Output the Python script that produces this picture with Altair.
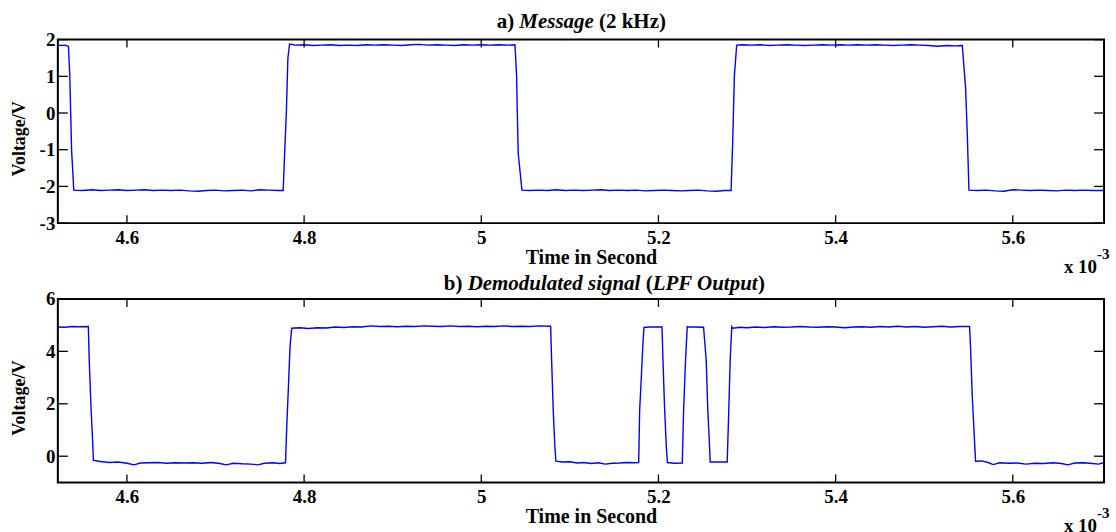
import altair as alt
import pandas as pd

# ---------------- data (time in units of 1e-3 s, voltage in V) ----------------
MSG_T = [4.522, 4.526, 4.530, 4.534, 4.5355, 4.5365, 4.5375, 4.5400,
         4.550, 4.560, 4.570, 4.580, 4.590, 4.600, 4.610, 4.620, 4.630, 4.640,
         4.650, 4.660, 4.670, 4.680, 4.690, 4.700, 4.710, 4.720, 4.730, 4.740,
         4.750, 4.760, 4.770, 4.7764,
         4.7780, 4.7800, 4.7817, 4.7836,
         4.790, 4.800, 4.810, 4.820, 4.830, 4.840, 4.850, 4.860, 4.870, 4.880,
         4.890, 4.900, 4.910, 4.920, 4.930, 4.940, 4.950, 4.960, 4.970, 4.980,
         4.990, 5.000, 5.010, 5.020, 5.030, 5.038,
         5.0399, 5.0407, 5.0417, 5.0459,
         5.055, 5.065, 5.075, 5.085, 5.095, 5.105, 5.115, 5.125, 5.135, 5.145,
         5.155, 5.165, 5.175, 5.185, 5.195, 5.205, 5.215, 5.225, 5.235, 5.245,
         5.255, 5.265, 5.275, 5.282,
         5.2838, 5.2857, 5.2883,
         5.295, 5.305, 5.315, 5.325, 5.335, 5.345, 5.355, 5.365, 5.375, 5.385,
         5.395, 5.405, 5.415, 5.425, 5.435, 5.445, 5.455, 5.465, 5.475, 5.485,
         5.495, 5.505, 5.515, 5.525, 5.535, 5.543,
         5.5467, 5.5486, 5.5505,
         5.560, 5.570, 5.580, 5.590, 5.600, 5.610, 5.620, 5.630, 5.640, 5.650,
         5.660, 5.670, 5.680, 5.690, 5.703]
MSG_V = [1.85, 1.84, 1.85, 1.82, 1.00, 0.00, -1.00, -2.10,
         -2.11, -2.09, -2.11, -2.10, -2.09, -2.11, -2.10, -2.09, -2.11, -2.10,
         -2.11, -2.10, -2.12, -2.13, -2.11, -2.10, -2.12, -2.11, -2.10, -2.12,
         -2.09, -2.10, -2.11, -2.11,
         -1.10, 0.05, 1.50, 1.88,
         1.85, 1.86, 1.84, 1.85, 1.86, 1.84, 1.85, 1.84, 1.86, 1.85,
         1.86, 1.85, 1.84, 1.86, 1.87, 1.85, 1.86, 1.85, 1.84, 1.86,
         1.85, 1.86, 1.85, 1.86, 1.85, 1.86,
         1.00, 0.00, -1.10, -2.10,
         -2.11, -2.10, -2.11, -2.09, -2.11, -2.10, -2.11, -2.10, -2.09, -2.11,
         -2.10, -2.11, -2.10, -2.12, -2.11, -2.10, -2.11, -2.12, -2.11, -2.10,
         -2.12, -2.13, -2.11, -2.11,
         -0.80, 1.00, 1.85,
         1.86, 1.85, 1.86, 1.84, 1.85, 1.86, 1.85, 1.84, 1.85, 1.86,
         1.85, 1.86, 1.85, 1.86, 1.85, 1.86, 1.85, 1.84, 1.85, 1.86,
         1.85, 1.84, 1.82, 1.84, 1.83, 1.84,
         0.70, -0.56, -2.10,
         -2.11, -2.10, -2.12, -2.13, -2.09, -2.10, -2.11, -2.10, -2.11, -2.12,
         -2.10, -2.11, -2.10, -2.11, -2.11]

DEM_T = [4.522, 4.530, 4.538, 4.546, 4.5564,
         4.5575, 4.5595, 4.5614, 4.5621,
         4.570, 4.580, 4.590, 4.600, 4.608, 4.615, 4.625, 4.635, 4.645, 4.655,
         4.665, 4.675, 4.685, 4.695, 4.705, 4.712, 4.720, 4.730, 4.740, 4.748,
         4.755, 4.765, 4.772, 4.779,
         4.7804, 4.7823, 4.7841, 4.786,
         4.795, 4.805, 4.815, 4.825, 4.835, 4.845, 4.855, 4.865, 4.875, 4.885,
         4.895, 4.905, 4.915, 4.925, 4.935, 4.945, 4.955, 4.965, 4.975, 4.985,
         4.995, 5.005, 5.015, 5.025, 5.035, 5.045, 5.055, 5.065, 5.0783,
         5.0794, 5.0812, 5.0831, 5.0842,
         5.092, 5.100, 5.108, 5.116, 5.124, 5.132, 5.140, 5.148, 5.156, 5.164,
         5.172, 5.1777,
         5.1788, 5.1807, 5.1825, 5.1836, 5.190, 5.204,
         5.2051, 5.2070, 5.2089, 5.2101, 5.218, 5.2269,
         5.2284, 5.2306, 5.2325, 5.2336, 5.240, 5.2509,
         5.2539, 5.2557, 5.2577, 5.2584, 5.2776,
         5.2794, 5.2810, 5.2828, 5.284,
         5.292, 5.300, 5.310, 5.320, 5.330, 5.340, 5.350, 5.360, 5.370, 5.380,
         5.390, 5.400, 5.410, 5.420, 5.430, 5.440, 5.450, 5.460, 5.470, 5.480,
         5.490, 5.500, 5.510, 5.520, 5.530, 5.540, 5.5512,
         5.5523, 5.5541, 5.5560, 5.5580,
         5.565, 5.572, 5.578, 5.585, 5.595, 5.605, 5.615, 5.625, 5.635, 5.645,
         5.655, 5.662, 5.670, 5.680, 5.690, 5.697, 5.703]
DEM_V = [4.93, 4.92, 4.95, 4.94, 4.95,
         3.60, 1.80, 0.50, -0.15,
         -0.20, -0.24, -0.22, -0.27, -0.33, -0.26, -0.25, -0.24, -0.27, -0.25,
         -0.26, -0.25, -0.27, -0.24, -0.28, -0.33, -0.27, -0.29, -0.30, -0.33,
         -0.27, -0.25, -0.28, -0.25,
         1.12, 2.65, 4.18, 4.88,
         4.90, 4.87, 4.90, 4.89, 4.93, 4.91, 4.94, 4.93, 4.97, 4.95,
         4.96, 4.94, 4.96, 4.95, 4.97, 4.96, 4.95, 4.97, 4.95, 4.96,
         4.94, 4.96, 4.95, 4.97, 4.95, 4.96, 4.95, 4.97, 4.96,
         3.67, 1.76, 0.36, -0.19,
         -0.22, -0.21, -0.26, -0.24, -0.28, -0.25, -0.30, -0.27, -0.26, -0.24,
         -0.25, -0.24,
         1.76, 3.04, 4.31, 4.91, 4.93, 4.93,
         3.67, 1.76, 0.36, -0.24, -0.27, -0.26,
         1.76, 3.67, 4.94, 4.93, 4.93, 4.92,
         3.67, 1.76, 0.36, -0.22, -0.22,
         1.76, 3.67, 4.94, 4.88,
         4.92, 4.90, 4.93, 4.91, 4.94, 4.92, 4.93, 4.95, 4.93, 4.92,
         4.94, 4.93, 4.90, 4.93, 4.94, 4.92, 4.95, 4.93, 4.96, 4.93,
         4.95, 4.92, 4.94, 4.96, 4.93, 4.95, 4.95,
         4.18, 2.40, 1.12, -0.19,
         -0.18, -0.24, -0.32, -0.25, -0.27, -0.26, -0.30, -0.27, -0.28, -0.25,
         -0.28, -0.33, -0.26, -0.25, -0.28, -0.30, -0.24]

X_DOMAIN = [4.522, 5.703]
X_TICKS = [4.6, 4.8, 5.0, 5.2, 5.4, 5.6]
MSG_Y_DOMAIN = [-3, 2]
MSG_Y_TICKS = [-3, -2, -1, 0, 1, 2]
DEM_Y_DOMAIN = [-1, 6]
DEM_Y_TICKS = [0, 2, 4, 6]
X_TITLE = "Time in Second"
Y_TITLE = "Voltage/V"
EXP_BASE = "x 10"
EXP_POW = "-3"
# title pieces: (text, italic, width in em of text, extra gap after in em)
MSG_TITLE = [("a)", False, 0.833, 0.25), ("Message", True, 3.555, 0.25),
             ("(2 kHz)", False, 3.194, 0.0)]
DEM_TITLE = [("b)", False, 0.889, 0.25), ("Demodulated signal", True, 8.251, 0.25),
             ("(", False, 0.333, 0.0), ("LPF Output", True, 5.029, 0.0),
             (")", False, 0.333, 0.0)]

# ---------------- styling ----------------
W, H = 1049, 184
FONT = "Liberation Serif"
BLUE = "#0000ff"
TITLE_FS = 21
XTICK_LEN = 8
YTICK_LEN = 10


def one_row():
    return pd.DataFrame({"k": [0]})


def title_layers(pieces, start_x, baseline_y):
    x = start_x
    layers = []
    for text, italic, w, gap in pieces:
        layers.append(
            alt.Chart(one_row()).mark_text(
                text=text, font=FONT, fontSize=TITLE_FS, fontWeight="bold",
                fontStyle="italic" if italic else "normal", align="left",
                baseline="alphabetic", color="black"
            ).encode(x=alt.value(x), y=alt.value(baseline_y))
        )
        x += (w + gap) * TITLE_FS
    return layers


def panel(t, v, ydom, yticks, title_pieces, title_x, title_y):
    df = pd.DataFrame({"t": t, "v": v})
    xs = alt.Scale(domain=X_DOMAIN, nice=False, zero=False)
    ys = alt.Scale(domain=ydom, nice=False, zero=False)

    xaxis = alt.Axis(
        values=X_TICKS, labelExpr="'' + datum.value", title=X_TITLE,
        titleX=W / 2 + 10, titleY=40, titleBaseline="alphabetic", titleAlign="center",
        titleFontSize=20, labelPadding=5, labelFlush=False, labelOverlap=False)
    yaxis = alt.Axis(
        values=yticks, labelExpr="'' + datum.value", title=Y_TITLE,
        titleX=-38, titleY=H / 2 + 7, titleAngle=270, titleBaseline="middle",
        titleAlign="center", titleFontSize=18, labelPadding=3,
        labelFlush=False, labelOverlap=False)

    line = alt.Chart(df).mark_line(color=BLUE, strokeWidth=1.4, clip=True).encode(
        x=alt.X("t:Q", scale=xs, axis=xaxis, title=X_TITLE),
        y=alt.Y("v:Q", scale=ys, axis=yaxis, title=Y_TITLE),
    )

    ytk = pd.DataFrame({"v": yticks})
    xtk = pd.DataFrame({"t": X_TICKS})
    tick_style = dict(color="black", strokeWidth=1.3)
    yl = alt.Chart(ytk).mark_rule(**tick_style).encode(
        y=alt.Y("v:Q", scale=ys, axis=yaxis, title=Y_TITLE),
        x=alt.value(0), x2=alt.value(YTICK_LEN))
    yr = alt.Chart(ytk).mark_rule(**tick_style).encode(
        y=alt.Y("v:Q", scale=ys, axis=yaxis, title=Y_TITLE),
        x=alt.value(W - YTICK_LEN), x2=alt.value(W))
    xb = alt.Chart(xtk).mark_rule(**tick_style).encode(
        x=alt.X("t:Q", scale=xs, axis=xaxis, title=X_TITLE),
        y=alt.value(H), y2=alt.value(H - XTICK_LEN))
    xt = alt.Chart(xtk).mark_rule(**tick_style).encode(
        x=alt.X("t:Q", scale=xs, axis=xaxis, title=X_TITLE),
        y=alt.value(0), y2=alt.value(XTICK_LEN))

    exp_base = alt.Chart(one_row()).mark_text(
        text=EXP_BASE, font=FONT, fontSize=19, fontWeight="bold", align="right",
        baseline="alphabetic", color="black").encode(x=alt.value(W - 7), y=alt.value(H + 50))
    exp_pow = alt.Chart(one_row()).mark_text(
        text=EXP_POW, font=FONT, fontSize=15, fontWeight="bold", align="left",
        baseline="alphabetic", color="black").encode(x=alt.value(W - 7), y=alt.value(H + 36))

    layers = [line, yl, yr, xb, xt, exp_base, exp_pow] + title_layers(
        title_pieces, title_x, title_y)
    return alt.layer(*layers).properties(width=W, height=H)


top = panel(MSG_T, MSG_V, MSG_Y_DOMAIN, MSG_Y_TICKS, MSG_TITLE, 440, -12)
bottom = panel(DEM_T, DEM_V, DEM_Y_DOMAIN, DEM_Y_TICKS, DEM_TITLE, 387, -9)

chart = alt.vconcat(top, bottom, spacing=76, bounds="flush").properties(
    padding={"left": 10, "top": 9, "right": 5, "bottom": 0},
    background="white",
).configure_view(
    stroke="black", strokeWidth=2
).configure_axis(
    grid=False, domain=False, ticks=False,
    labelFont=FONT, labelFontSize=19, labelFontWeight="bold", labelColor="black",
    titleFont=FONT, titleFontWeight="bold", titleColor="black",
)

chart.save("out.html", embed_options={"renderer": "svg", "actions": False})
